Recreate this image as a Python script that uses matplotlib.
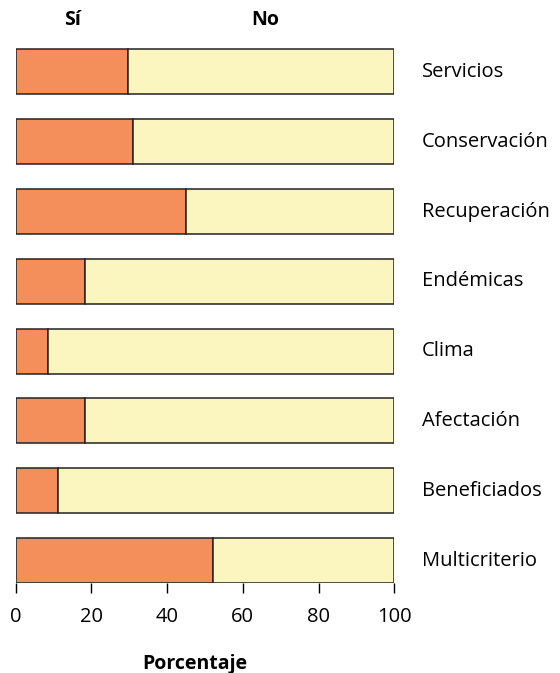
import numpy as np
import matplotlib
matplotlib.use("Agg")
import matplotlib.pyplot as plt

categories = ["Servicios", "Conservación", "Recuperación", "Endémicas",
              "Clima", "Afectación", "Beneficiados", "Multicriterio"]
si_pct = [29.6, 31.1, 45.1, 18.3, 8.5, 18.3, 11.3, 52.0]
no_pct = [100 - v for v in si_pct]
xticks = [0, 20, 40, 60, 80, 100]

plt.rcParams['font.family'] = ['Open Sans', 'DejaVu Sans']

fig = plt.figure(figsize=(5.6, 6.73), dpi=100)
ax = fig.add_axes([0.028, 0.1337, 0.676, 0.8113])

n = len(categories)
ypos = np.arange(n)[::-1]
h = 0.645
ax.barh(ypos, si_pct, height=h, color='#f48f5c', edgecolor='#222222', linewidth=1.1)
ax.barh(ypos, no_pct, left=si_pct, height=h, color='#fbf6c0', edgecolor='#222222', linewidth=1.1)

for y, name in zip(ypos, categories):
    ax.text(107.3, y, name, ha='left', va='center', fontsize=14.5, clip_on=False)

ax.text(15.1, 7.74, "Sí", ha='center', va='center', fontsize=14, fontweight='bold')
ax.text(65.8, 7.74, "No", ha='center', va='center', fontsize=14, fontweight='bold')

ax.set_xlim(0, 100)
ax.set_ylim(-h / 2, 7.5)
ax.set_xticks(xticks)
ax.set_yticks([])
ax.tick_params(axis='x', direction='out', length=7, width=1, labelsize=14.5, pad=10)
for s in ax.spines.values():
    s.set_visible(False)

ax.set_xlabel("Porcentaje", fontsize=14, fontweight='bold')
ax.xaxis.set_label_coords(0.474, -0.13)

fig.savefig("out.png", dpi=100)
